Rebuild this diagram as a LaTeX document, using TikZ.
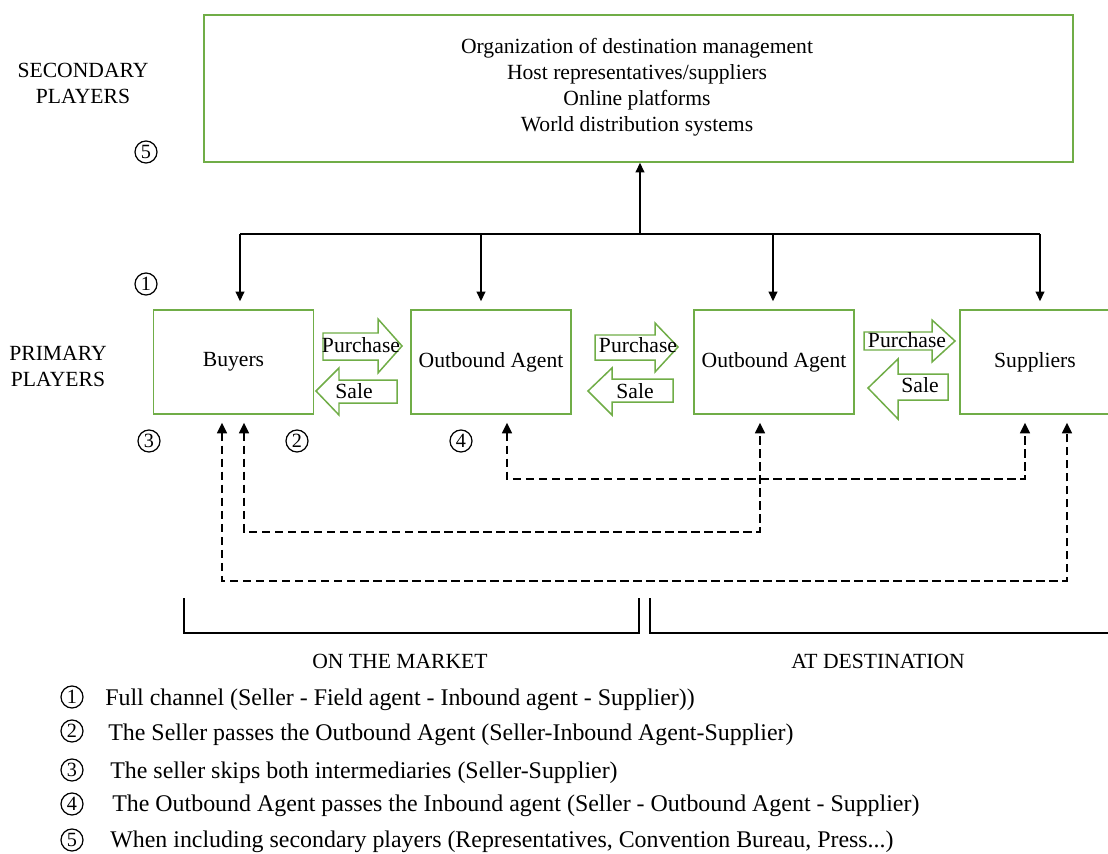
\documentclass[tikz,border=0pt]{standalone}
\usepackage{fontspec}
\setmainfont{Liberation Serif}
\usetikzlibrary{arrows.meta,calc}
\definecolor{boxgreen}{RGB}{112,173,71}
\tikzset{
  player/.style = {rectangle, draw=boxgreen, line width=0.85pt, minimum width=32mm, minimum height=20.8mm, font=\fontsize{12.3}{14.8}\selectfont},
  blockarr/.style = {draw=boxgreen, line width=0.85pt, fill=white},
  et/.style     = {font=\fontsize{12.3}{14.8}\selectfont, align=center},
  num/.style    = {circle, draw, line width=0.7pt, inner sep=0pt, minimum size=4.4mm, font=\fontsize{11.5}{11.5}\selectfont},
  leg/.style    = {anchor=west, inner sep=0pt, font=\fontsize{13.6}{16}\selectfont},
  link/.style   = {line width=0.85pt},
  arr/.style    = {line width=0.85pt, -{Triangle[length=5.5pt,width=5pt]}},
  dsh/.style    = {line width=1.3pt, dash pattern=on 4.8pt off 2.6pt, {Triangle[length=6pt,width=5.5pt]}-{Triangle[length=6pt,width=5.5pt]}, shorten <=1.6mm, shorten >=1.6mm}
}

\begin{document}
\begin{tikzpicture}[x=0.2mm, y=-0.2mm]
  \useasboundingbox (0,0) rectangle (1108,854);

  % secondary players
  \node[player, minimum width=173.8mm, minimum height=29.4mm] (dmo) at (638.5,88.5) {};
  \node[et] (dmotxt) at (637,87) {Organization of destination management\\Host representatives/suppliers\\Online platforms\\World distribution systems};
  \node[et] (sec) at (83,83) {SECONDARY\\PLAYERS};
  \node[num] (n5) at (146,152) {5};

  % primary players
  \node[et] (prim) at (58,366) {PRIMARY\\PLAYERS};
  \node[player] (buyers) at (233.5,362) {Buyers};
  \node[player] (oa1) at (491,362) {Outbound Agent};
  \node[player] (oa2) at (774,362) {Outbound Agent};
  \node[player, minimum width=30mm] (sup) at (1035,362) {Suppliers};
  \node[num] (n1) at (146,284) {1};
  \node[num] (n3) at (149,441) {3};
  \node[num] (n2) at (297,441) {2};
  \node[num] (n4) at (461,441) {4};

  % tree from the top box
  \coordinate (hub) at (640,234);
  \coordinate (tb) at (240,234); \coordinate (t1) at (481,234);
  \coordinate (t2) at (773,234); \coordinate (ts) at (1040,234);
  \draw[arr] (hub) -- (hub |- dmo.south);
  \draw[link] (tb) -- (ts);
  \draw[arr, shorten >=1.6mm] (tb) -- (tb |- buyers.north);
  \draw[arr, shorten >=1.6mm] (t1) -- (t1 |- oa1.north);
  \draw[arr, shorten >=1.6mm] (t2) -- (t2 |- oa2.north);
  \draw[arr, shorten >=1.6mm] (ts) -- (ts |- sup.north);

  % purchase / sale
  \draw[blockarr] (323,333) -- (378,333) -- (378,319) -- (402,346) -- (378,373) -- (378,360) -- (323,360) -- cycle;
  \node[et] (p1) at (361,345) {Purchase};
  \draw[blockarr] (316,391) -- (339,368) -- (339,380) -- (397,380) -- (397,403) -- (339,403) -- (339,415) -- cycle;
  \node[et] (s1) at (354,391) {Sale};
  \draw[blockarr] (595,335) -- (655,335) -- (655,323) -- (678,347) -- (655,372) -- (655,360) -- (595,360) -- cycle;
  \node[et] (p2) at (638,345) {Purchase};
  \draw[blockarr] (588,391) -- (612,368) -- (612,379) -- (673,379) -- (673,402) -- (612,402) -- (612,415) -- cycle;
  \node[et] (s2) at (635,391) {Sale};
  \draw[blockarr] (864,332) -- (932,332) -- (932,320) -- (955,341) -- (932,362) -- (932,350) -- (864,350) -- cycle;
  \node[et] (p3) at (907,340) {Purchase};
  \draw[blockarr] (868,388) -- (898,359) -- (898,374) -- (948,374) -- (948,400) -- (898,400) -- (898,419) -- cycle;
  \node[et] (s3) at (920,385) {Sale};

  % short channels
  \draw[dsh] ($(oa1.south)+(16,0)$) -- ++(0,64) -| ($(sup.south)+(-10,0)$);
  \draw[dsh] ($(buyers.south)+(10.5,0)$) -- ++(0,117) -| ($(oa2.south)+(-14,0)$);
  \draw[dsh] ($(buyers.south)+(-11.5,0)$) -- ++(0,166) -| ($(sup.south)+(32,0)$);

  % market / destination
  \draw[link] (184,598) |- (639,633) -- (639,598);
  \draw[link] (650,598) |- (1120,633);
  \node[et] (mkt) at (400,661) {ON THE MARKET};
  \node[et] (dst) at (878,661) {AT DESTINATION};

  % legend
  \node[num] (l1) at (72,697) {1}; \node[leg] (t1x) at (105,700) {Full channel (Seller - Field agent - Inbound agent - Supplier))};
  \node[num] (l2) at (72,731) {2}; \node[leg] (t2x) at (108,735) {The Seller passes the Outbound Agent (Seller-Inbound Agent-Supplier)};
  \node[num] (l3) at (72,770) {3}; \node[leg] (t3x) at (110,773) {The seller skips both intermediaries (Seller-Supplier)};
  \node[num] (l4) at (72,804) {4}; \node[leg] (t4x) at (112,806) {The Outbound Agent passes the Inbound agent (Seller - Outbound Agent - Supplier)};
  \node[num] (l5) at (72,840) {5}; \node[leg] (t5x) at (110,842) {When including secondary players (Representatives, Convention Bureau, Press...)};
\end{tikzpicture}
\end{document}
